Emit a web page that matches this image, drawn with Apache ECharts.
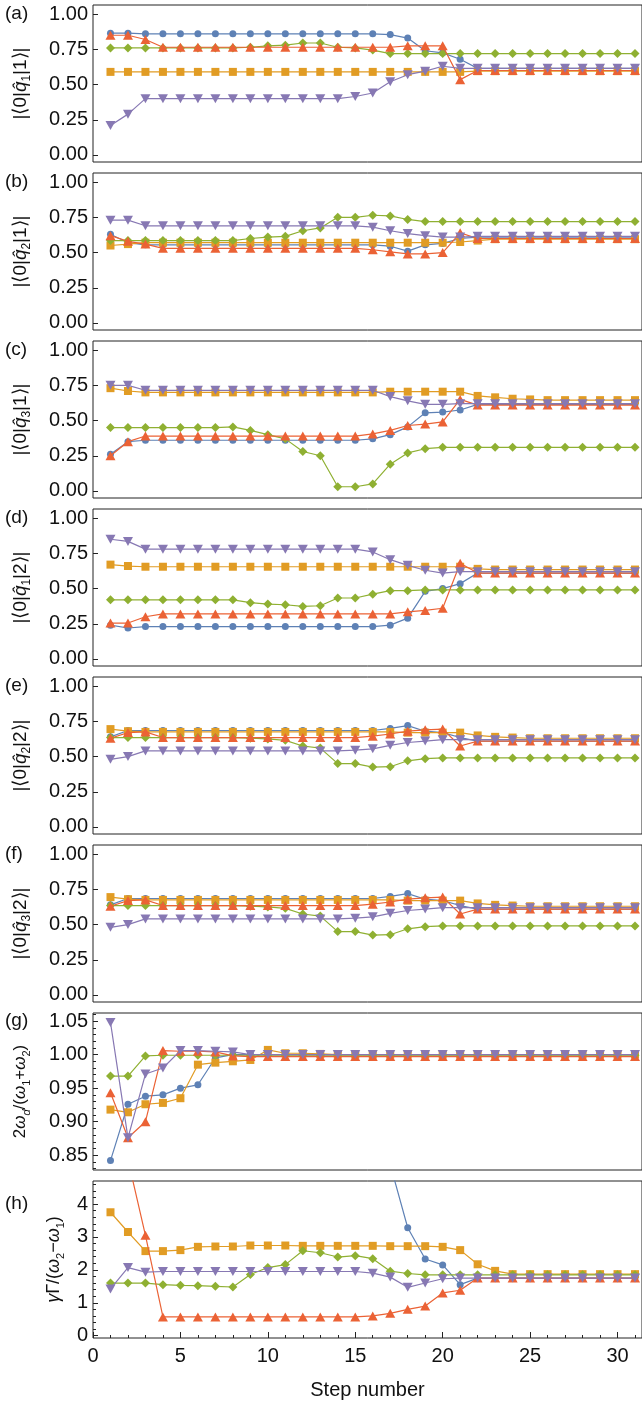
<!DOCTYPE html>
<html><head><meta charset="utf-8">
<script src="https://cdn.jsdelivr.net/npm/echarts@6/dist/echarts.min.js"></script>
<style>html,body{margin:0;padding:0;background:#fff}#c{width:642px;height:1410px}</style>
</head><body><div id="c"></div>
<script>
// ---------- DATA ----------
const steps = [1,2,3,4,5,6,7,8,9,10,11,12,13,14,15,16,17,18,19,20,21,22,23,24,25,26,27,28,29,30,31];
const xTicks = [0,5,10,15,20,25,30];
const xMinorTicks = [1,2,3,4,6,7,8,9,11,12,13,14,16,17,18,19,21,22,23,24,26,27,28,29,31];
const yTicksQ = [0,0.25,0.5,0.75,1];
const yTicksG = [0.85,0.9,0.95,1.0,1.05];
const yMinorG = [0.83,0.84,0.86,0.87,0.88,0.89,0.91,0.92,0.93,0.94,0.96,0.97,0.98,0.99,1.01,1.02,1.03,1.04,1.06];
const yTicksH = [0,1,2,3,4];
const yMinorH = [0.2,0.4,0.6,0.8,1.2,1.4,1.6,1.8,2.2,2.4,2.6,2.8,3.2,3.4,3.6,3.8,4.2,4.4,4.6];

// (a) |<0|q1|1>|
const aBlue   = [0.865,0.865,0.86,0.86,0.86,0.86,0.86,0.86,0.86,0.86,0.86,0.86,0.86,0.86,0.86,0.86,0.855,0.83,0.74,0.725,0.68,0.615,0.615,0.615,0.615,0.615,0.615,0.615,0.615,0.615,0.615];
const aOrange = [0.59,0.59,0.59,0.59,0.59,0.59,0.59,0.59,0.59,0.59,0.59,0.59,0.59,0.59,0.59,0.59,0.59,0.59,0.59,0.59,0.59,0.595,0.595,0.595,0.595,0.595,0.595,0.595,0.595,0.595,0.595];
const aGreen  = [0.76,0.76,0.76,0.76,0.76,0.76,0.76,0.76,0.765,0.775,0.78,0.795,0.795,0.765,0.76,0.745,0.72,0.72,0.72,0.72,0.72,0.72,0.72,0.72,0.72,0.72,0.72,0.72,0.72,0.72,0.72];
const aRed    = [0.85,0.85,0.82,0.765,0.765,0.765,0.765,0.765,0.765,0.765,0.765,0.765,0.765,0.765,0.765,0.765,0.765,0.775,0.775,0.775,0.535,0.60,0.60,0.60,0.60,0.60,0.60,0.60,0.60,0.60,0.60];
const aPurple = [0.21,0.29,0.40,0.40,0.40,0.40,0.40,0.40,0.40,0.40,0.40,0.40,0.40,0.40,0.415,0.44,0.52,0.57,0.595,0.63,0.615,0.615,0.615,0.615,0.615,0.615,0.615,0.615,0.615,0.615,0.615];

// (b) |<0|q2|1>|
const bBlue   = [0.63,0.57,0.555,0.555,0.555,0.555,0.555,0.555,0.555,0.555,0.555,0.555,0.555,0.555,0.555,0.555,0.545,0.51,0.555,0.565,0.60,0.61,0.61,0.61,0.61,0.61,0.61,0.61,0.61,0.61,0.61];
const bOrange = [0.55,0.56,0.57,0.57,0.57,0.57,0.57,0.57,0.57,0.57,0.57,0.57,0.57,0.57,0.57,0.57,0.57,0.57,0.57,0.57,0.575,0.585,0.595,0.595,0.595,0.595,0.595,0.595,0.595,0.595,0.595];
const bGreen  = [0.585,0.585,0.585,0.585,0.585,0.585,0.585,0.585,0.60,0.61,0.615,0.655,0.675,0.75,0.75,0.765,0.76,0.735,0.72,0.72,0.72,0.72,0.72,0.72,0.72,0.72,0.72,0.72,0.72,0.72,0.72];
const bRed    = [0.62,0.58,0.56,0.53,0.53,0.53,0.53,0.53,0.53,0.53,0.53,0.53,0.53,0.53,0.53,0.52,0.505,0.49,0.49,0.50,0.64,0.60,0.60,0.60,0.60,0.60,0.60,0.60,0.60,0.60,0.60];
const bPurple = [0.73,0.73,0.69,0.69,0.69,0.69,0.69,0.69,0.69,0.69,0.69,0.69,0.69,0.69,0.69,0.68,0.655,0.635,0.62,0.61,0.61,0.615,0.615,0.615,0.615,0.615,0.615,0.615,0.615,0.615,0.615];

// (c) |<0|q3|1>|
const cBlue   = [0.26,0.35,0.36,0.36,0.36,0.36,0.36,0.36,0.36,0.36,0.36,0.36,0.36,0.36,0.36,0.37,0.40,0.455,0.555,0.56,0.575,0.615,0.615,0.615,0.615,0.615,0.615,0.615,0.615,0.615,0.615];
const cOrange = [0.73,0.71,0.70,0.70,0.70,0.70,0.70,0.70,0.70,0.70,0.70,0.70,0.70,0.70,0.70,0.70,0.705,0.705,0.705,0.705,0.705,0.675,0.665,0.655,0.65,0.645,0.645,0.645,0.645,0.645,0.645];
const cGreen  = [0.45,0.45,0.45,0.45,0.45,0.45,0.45,0.455,0.43,0.40,0.37,0.28,0.25,0.03,0.03,0.05,0.19,0.27,0.30,0.31,0.31,0.31,0.31,0.31,0.31,0.31,0.31,0.31,0.31,0.31,0.31];
const cRed    = [0.25,0.35,0.39,0.39,0.39,0.39,0.39,0.39,0.39,0.39,0.39,0.39,0.39,0.39,0.39,0.405,0.43,0.465,0.475,0.49,0.65,0.61,0.61,0.61,0.61,0.61,0.61,0.61,0.61,0.61,0.61];
const cPurple = [0.75,0.75,0.715,0.715,0.715,0.715,0.715,0.715,0.715,0.715,0.715,0.715,0.715,0.715,0.715,0.715,0.67,0.64,0.615,0.615,0.62,0.62,0.62,0.62,0.62,0.62,0.62,0.62,0.62,0.62,0.62];

// (d) |<0|q1|2>|
const dBlue   = [0.24,0.22,0.23,0.23,0.23,0.23,0.23,0.23,0.23,0.23,0.23,0.23,0.23,0.23,0.23,0.23,0.24,0.29,0.48,0.50,0.535,0.61,0.61,0.61,0.61,0.61,0.61,0.61,0.61,0.61,0.61];
const dOrange = [0.67,0.66,0.655,0.655,0.655,0.655,0.655,0.655,0.655,0.655,0.655,0.655,0.655,0.655,0.655,0.655,0.655,0.655,0.655,0.655,0.655,0.64,0.635,0.635,0.635,0.635,0.635,0.635,0.635,0.635,0.635];
const dGreen  = [0.42,0.42,0.42,0.42,0.42,0.42,0.42,0.42,0.40,0.39,0.385,0.373,0.378,0.433,0.433,0.46,0.485,0.485,0.49,0.49,0.49,0.49,0.49,0.49,0.49,0.49,0.49,0.49,0.49,0.49,0.49];
const dRed    = [0.255,0.255,0.30,0.32,0.32,0.32,0.32,0.32,0.32,0.32,0.32,0.32,0.32,0.32,0.32,0.32,0.32,0.335,0.345,0.36,0.68,0.61,0.61,0.61,0.61,0.61,0.61,0.61,0.61,0.61,0.61];
const dPurple = [0.85,0.835,0.78,0.78,0.78,0.78,0.78,0.78,0.78,0.78,0.78,0.78,0.78,0.78,0.78,0.76,0.705,0.665,0.63,0.61,0.62,0.62,0.62,0.62,0.62,0.62,0.62,0.62,0.62,0.62,0.62];

// (e) |<0|q2|2>|
const eBlue   = [0.64,0.685,0.685,0.685,0.685,0.685,0.685,0.685,0.685,0.685,0.685,0.685,0.685,0.685,0.685,0.685,0.70,0.72,0.68,0.67,0.635,0.61,0.61,0.61,0.61,0.61,0.61,0.61,0.61,0.61,0.61];
const eOrange = [0.695,0.68,0.675,0.675,0.675,0.675,0.675,0.675,0.675,0.675,0.675,0.675,0.675,0.675,0.675,0.675,0.675,0.67,0.67,0.67,0.67,0.65,0.64,0.635,0.63,0.63,0.63,0.63,0.63,0.63,0.63];
const eGreen  = [0.635,0.635,0.635,0.635,0.635,0.635,0.635,0.635,0.63,0.625,0.615,0.575,0.56,0.45,0.45,0.425,0.428,0.47,0.485,0.49,0.49,0.49,0.49,0.49,0.49,0.49,0.49,0.49,0.49,0.49,0.49];
const eRed    = [0.63,0.67,0.675,0.635,0.635,0.635,0.635,0.635,0.635,0.635,0.635,0.635,0.635,0.635,0.635,0.645,0.66,0.68,0.69,0.695,0.575,0.61,0.61,0.61,0.61,0.61,0.61,0.61,0.61,0.61,0.61];
const ePurple = [0.48,0.50,0.54,0.54,0.54,0.54,0.54,0.54,0.54,0.54,0.54,0.54,0.54,0.54,0.545,0.555,0.58,0.60,0.61,0.62,0.62,0.62,0.62,0.62,0.62,0.62,0.62,0.62,0.62,0.62,0.62];

// (f) |<0|q3|2>|  (reads identical to panel e)
const fBlue   = eBlue.slice();
const fOrange = eOrange.slice();
const fGreen  = eGreen.slice();
const fRed    = eRed.slice();
const fPurple = ePurple.slice();

// (g) 2 w_d / (w1 + w2)
const gBlue   = [0.842,0.926,0.938,0.94,0.95,0.955,0.995,1.0,1.0,1.0,1.0,1.0,1.0,1.0,1.0,1.0,1.0,1.0,1.0,1.0,1.0,1.0,1.0,1.0,1.0,1.0,1.0,1.0,1.0,1.0,1.0];
const gOrange = [0.918,0.914,0.926,0.928,0.935,0.985,0.988,0.99,0.992,1.007,1.002,1.002,1.001,1.0,1.0,1.0,1.0,1.0,1.0,1.0,1.0,1.0,1.0,1.0,1.0,1.0,1.0,1.0,1.0,1.0,1.0];
const gGreen  = [0.968,0.968,0.998,0.999,0.999,0.999,0.999,0.999,0.999,0.999,0.999,0.999,0.999,0.999,0.999,0.999,0.999,0.999,0.999,0.999,0.999,0.999,0.999,0.999,0.999,0.999,0.999,0.999,0.999,0.999,0.999];
const gRed    = [0.943,0.876,0.90,1.006,1.005,1.005,1.004,0.998,0.997,0.997,0.997,0.997,0.997,0.997,0.997,0.997,0.997,0.997,0.997,0.997,0.997,0.997,0.997,0.997,0.997,0.997,0.997,0.997,0.997,0.997,0.997];
const gPurple = [1.048,0.876,0.971,0.98,1.006,1.006,1.005,1.004,1.0,1.0,1.0,1.0,1.0,1.0,1.0,1.0,1.0,1.0,1.0,1.0,1.0,1.0,1.0,1.0,1.0,1.0,1.0,1.0,1.0,1.0,1.0];

// (h) gamma Gamma / (w2 - w1)   (null = off the plotted range)
const hBlue   = [null,null,null,null,null,null,null,null,null,null,null,null,null,null,null,null,5.2,3.28,2.33,2.15,1.55,1.75,1.75,1.75,1.75,1.75,1.75,1.75,1.75,1.75,1.75];
const hOrange = [3.75,3.15,2.57,2.57,2.60,2.70,2.71,2.71,2.74,2.74,2.74,2.73,2.73,2.73,2.73,2.73,2.72,2.72,2.72,2.70,2.60,2.17,1.97,1.87,1.87,1.87,1.87,1.87,1.87,1.87,1.87];
const hGreen  = [1.6,1.6,1.6,1.55,1.53,1.52,1.50,1.48,1.86,2.07,2.16,2.58,2.52,2.39,2.43,2.34,1.96,1.89,1.85,1.85,1.85,1.85,1.85,1.85,1.85,1.85,1.85,1.85,1.85,1.85,1.85];
const hRed    = [null,5.35,3.05,0.57,0.57,0.57,0.57,0.57,0.57,0.57,0.57,0.57,0.57,0.57,0.57,0.60,0.68,0.80,0.90,1.30,1.38,1.75,1.75,1.75,1.75,1.75,1.75,1.75,1.75,1.75,1.75];
const hPurple = [1.42,2.07,1.93,1.95,1.95,1.95,1.95,1.95,1.95,1.95,1.95,1.95,1.95,1.95,1.95,1.90,1.78,1.47,1.60,1.73,1.75,1.75,1.75,1.75,1.75,1.75,1.75,1.75,1.75,1.75,1.75];

const panelLabels = ['(a)','(b)','(c)','(d)','(e)','(f)','(g)','(h)'];
const yTitles = [
  '|⟨0|{q|q\u0302}{s|1}|1⟩|',
  '|⟨0|{q|q\u0302}{s|2}|1⟩|',
  '|⟨0|{q|q\u0302}{s|3}|1⟩|',
  '|⟨0|{q|q\u0302}{s|1}|2⟩|',
  '|⟨0|{q|q\u0302}{s|2}|2⟩|',
  '|⟨0|{q|q\u0302}{s|3}|2⟩|',
  '2{q|ω}{si|d}/({q|ω}{s|1}+{q|ω}{s|2})',
  '{q|γ}Γ/({q|ω}{s|2}−{q|ω}{s|1})'
];
const xTitle = 'Step number';

// ---------- STYLE / LAYOUT ----------
const FF = '"Liberation Sans", Arial, Helvetica, sans-serif';
const INK = '#111';
const COLORS = ['#5E81B5','#E19C24','#8FB032','#EB6235','#8778B3'];
const SYMBOLS = [
  {symbol:'circle', size:7, rot:0},
  {symbol:'rect', size:8, rot:0},
  {symbol:'path://M0,-1L1,0L0,1L-1,0Z', size:[9,9], rot:0},
  {symbol:'triangle', size:[10,9], rot:0},
  {symbol:'triangle', size:[10,9], rot:180}
];
const panelSeries = [
  [aBlue,aOrange,aGreen,aRed,aPurple],
  [bBlue,bOrange,bGreen,bRed,bPurple],
  [cBlue,cOrange,cGreen,cRed,cPurple],
  [dBlue,dOrange,dGreen,dRed,dPurple],
  [eBlue,eOrange,eGreen,eRed,ePurple],
  [fBlue,fOrange,fGreen,fRed,fPurple],
  [gBlue,gOrange,gGreen,gRed,gPurple],
  [hBlue,hOrange,hGreen,hRed,hPurple]
];
const yCfg = [
  {min:-0.05, max:1.065, ticks:yTicksQ, minor:[], dec:2, gap:60, fs:19},
  {min:-0.05, max:1.065, ticks:yTicksQ, minor:[], dec:2, gap:60, fs:19},
  {min:-0.05, max:1.065, ticks:yTicksQ, minor:[], dec:2, gap:60, fs:19},
  {min:-0.05, max:1.065, ticks:yTicksQ, minor:[], dec:2, gap:60, fs:19},
  {min:-0.05, max:1.065, ticks:yTicksQ, minor:[], dec:2, gap:60, fs:19},
  {min:-0.05, max:1.065, ticks:yTicksQ, minor:[], dec:2, gap:60, fs:19},
  {min:0.828, max:1.062, ticks:yTicksG, minor:yMinorG, dec:2, gap:61, fs:17},
  {min:-0.07, max:4.7, ticks:yTicksH, minor:yMinorH, dec:0, gap:22, fs:18}
];
const TOP0 = 5, PITCH = 168, H = 157, LEFT = 93;
const XMAX = 31.4;
const TICK_FS = 20;

const grids = [], xAxes = [], yAxes = [], series = [];
panelSeries.forEach((sers, p) => {
  const last = p === panelSeries.length - 1;
  grids.push({left: LEFT, right: -2, top: TOP0 + PITCH * p, height: H,
    show: true, borderColor: '#222', borderWidth: 1, backgroundColor: 'transparent'});
  xAxes.push({type:'value', gridIndex:p, min:0, max:XMAX,
    axisLine:{show:false, onZero:false}, splitLine:{show:false},
    axisTick:{show:last, inside:true, length:6, customValues:xTicks, lineStyle:{color:'#222'}},
    axisLabel:{show:last, customValues:xTicks, fontSize:TICK_FS, fontFamily:FF, color:INK, margin:8},
    name: last ? xTitle : '', nameLocation:'middle', nameGap:42,
    nameTextStyle:{fontSize:20, fontFamily:FF, color:INK}});
  xAxes.push({type:'value', gridIndex:p, min:0, max:XMAX, position:'bottom',
    axisLine:{show:false, onZero:false}, splitLine:{show:false},
    axisTick:{show:last, inside:true, length:3, customValues:xMinorTicks, lineStyle:{color:'#222'}},
    axisLabel:{show:false}});
  const yc = yCfg[p];
  yAxes.push({type:'value', gridIndex:p, min:yc.min, max:yc.max, position:'left',
    axisLine:{show:false, onZero:false}, splitLine:{show:false},
    axisTick:{show:true, inside:true, length:5, customValues:yc.ticks, lineStyle:{color:'#222'}},
    axisLabel:{customValues:yc.ticks, fontSize:TICK_FS, fontFamily:FF, color:INK, margin:5,
      formatter: v => Number(v).toFixed(yc.dec)},
    name: yTitles[p], nameLocation:'middle', nameRotate:90, nameGap: yc.gap,
    nameTextStyle:{fontSize:yc.fs, fontFamily:FF, color:INK, lineHeight:24,
      rich:{
        q:{fontStyle:'italic', fontSize:yc.fs, fontFamily:FF, color:INK, lineHeight:24},
        s:{fontSize:Math.round(yc.fs*0.62), fontFamily:FF, color:INK, verticalAlign:'bottom', lineHeight:12},
        si:{fontStyle:'italic', fontSize:Math.round(yc.fs*0.62), fontFamily:FF, color:INK, verticalAlign:'bottom', lineHeight:12}
      }}});
  yAxes.push({type:'value', gridIndex:p, min:yc.min, max:yc.max, position:'left',
    axisLine:{show:false, onZero:false}, splitLine:{show:false},
    axisTick:{show: yc.minor.length > 0, inside:true, length:3, customValues: yc.minor.length ? yc.minor : [yc.min], lineStyle:{color:'#222'}},
    axisLabel:{show:false}});
  sers.forEach((vals, k) => {
    const sym = SYMBOLS[k];
    series.push({type:'line', xAxisIndex:2*p, yAxisIndex:2*p,
      data: vals.map((v, i) => [steps[i], v === null ? '-' : v]),
      symbol: sym.symbol, symbolSize: sym.size, symbolRotate: sym.rot, showAllSymbol:true,
      clip:true, silent:true, z: 2 + k,
      lineStyle:{color: COLORS[k], width:1.2},
      itemStyle:{color: COLORS[k]}});
  });
});

const chart = echarts.init(document.getElementById('c'), null, {renderer:'canvas'});
chart.setOption({animation:false, backgroundColor:'#fff',
  grid:grids, xAxis:xAxes, yAxis:yAxes, series:series});

const titles = panelLabels.map((t, p) => {
  const topTick = yCfg[p].ticks[yCfg[p].ticks.length - 1];
  const py = chart.convertToPixel({yAxisIndex: 2*p}, topTick);
  return {text:t, left:5, top: py - 10, padding:0,
    textStyle:{fontSize:19, fontWeight:'normal', fontFamily:FF, color:INK, lineHeight:20}};
});
chart.setOption({title: titles});
</script></body></html>
